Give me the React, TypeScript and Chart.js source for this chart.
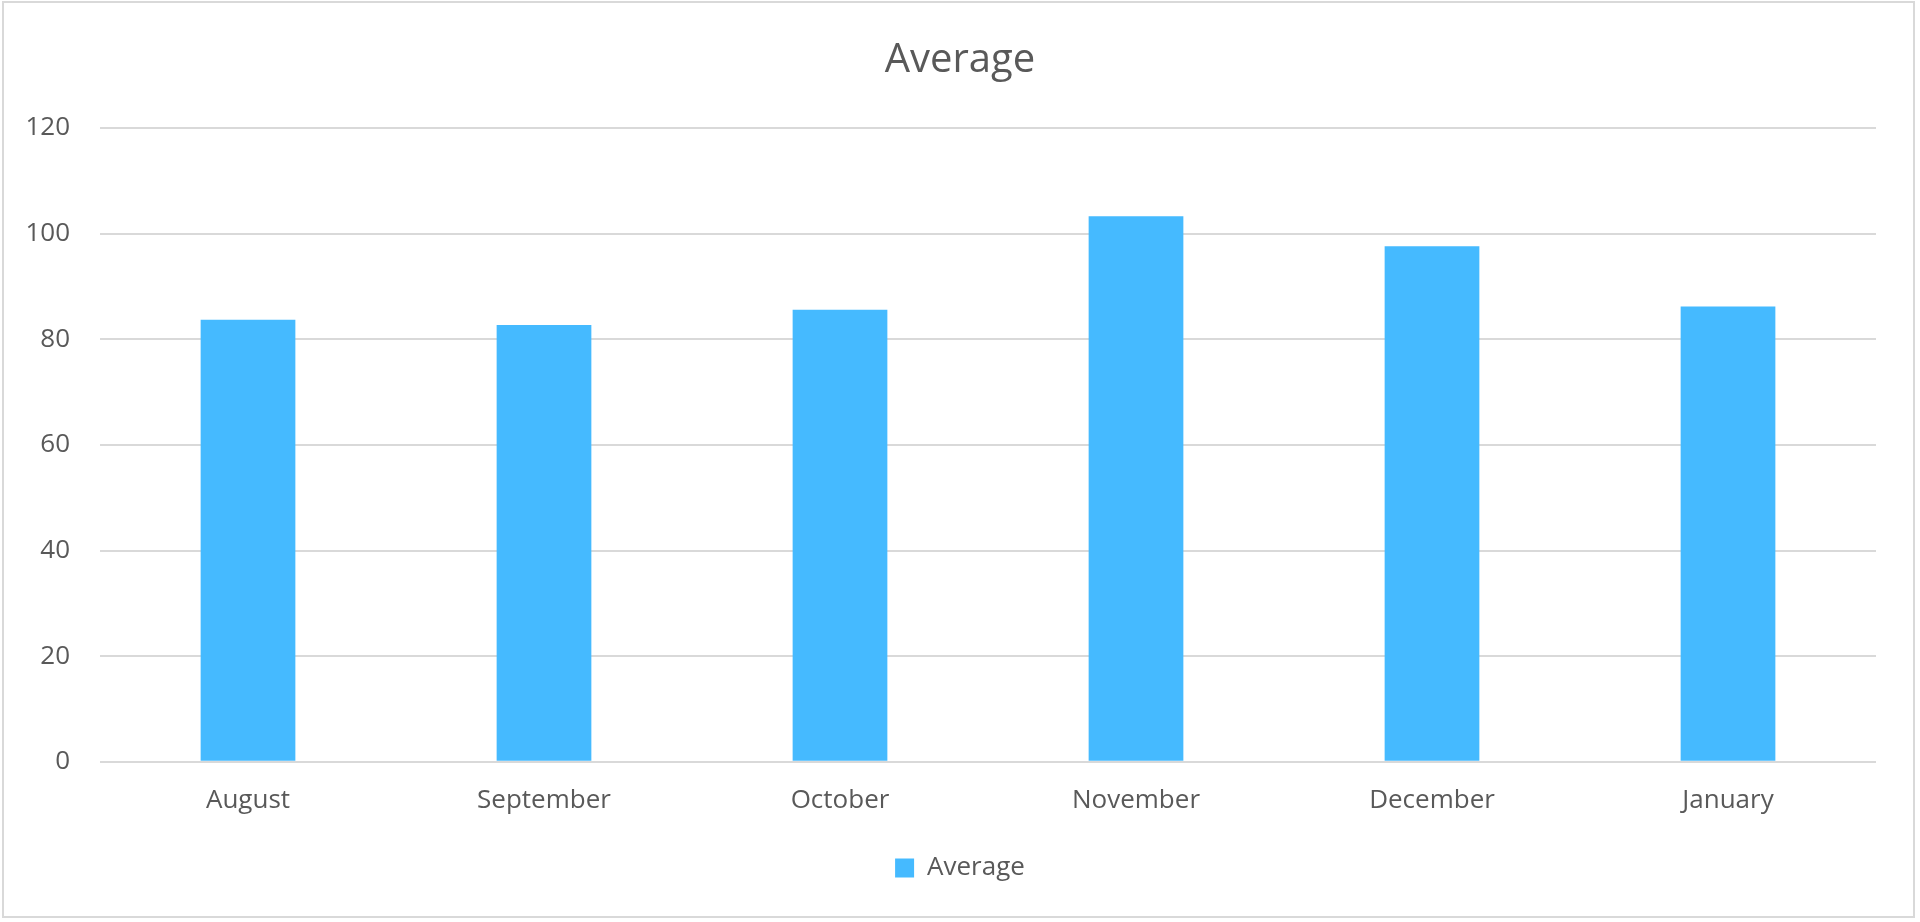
import React, { useEffect, useRef } from "react";
import { Chart, registerables } from "chart.js";

Chart.register(...registerables);

const categories: string[] = ["August", "September", "October", "November", "December", "January"];
const averageValues: number[] = [83.7, 82.7, 85.6, 103.3, 97.6, 86.2];
const seriesName = "Average";
const chartTitle = "Average";

const FONT = "'Open Sans', 'Noto Sans', sans-serif";
const TEXT = "#595959";
const GRID = "#d9d9d9";
const BAR = "#45baff";

export default function App() {
  const canvasRef = useRef<HTMLCanvasElement | null>(null);

  useEffect(() => {
    document.body.style.margin = "0";
    const canvas = canvasRef.current;
    if (!canvas) return;
    const chart = new Chart(canvas, {
      type: "bar",
      data: {
        labels: categories,
        datasets: [
          {
            label: seriesName,
            data: averageValues,
            backgroundColor: BAR,
            borderWidth: 0,
            categoryPercentage: 1,
            barPercentage: 0.32,
            yAxisID: "y",
          },
        ],
      },
      options: {
        responsive: false,
        animation: false,
        layout: { padding: { left: 0, right: 0, top: 0, bottom: 31 } },
        plugins: {
          title: {
            display: true,
            text: chartTitle,
            color: TEXT,
            font: { family: FONT, size: 40, weight: "normal" },
            padding: { top: 37, bottom: 43 },
          },
          legend: {
            display: true,
            position: "bottom",
            labels: {
              color: TEXT,
              font: { family: FONT, size: 26 },
              boxWidth: 19,
              boxHeight: 19,
              padding: 10,
            },
          },
          tooltip: { enabled: false },
        },
        scales: {
          x: {
            grid: { display: false },
            border: { display: false },
            ticks: {
              color: TEXT,
              font: { family: FONT, size: 26 },
              padding: 15,
              maxRotation: 0,
            },
            afterFit: (scale: any) => {
              scale.height = scale.height + 14;
            },
          },
          y: {
            min: 0,
            max: 120,
            grid: { color: GRID, lineWidth: 2, drawTicks: false },
            border: { display: false },
            ticks: {
              stepSize: 20,
              color: TEXT,
              font: { family: FONT, size: 26 },
              padding: 30,
            },
            afterFit: (scale: any) => {
              scale.width = 100;
            },
          },
          yRight: {
            position: "right",
            display: true,
            min: 0,
            max: 120,
            grid: { display: false, drawTicks: false },
            border: { display: false },
            ticks: { display: false },
            afterFit: (scale: any) => {
              scale.width = 44;
            },
          },
        },
      },
    });
    return () => chart.destroy();
  }, []);

  return (
    <div style={{ position: "relative", width: 1920, height: 922, background: "#fff" }}>
      <canvas
        ref={canvasRef}
        width={1920}
        height={922}
        style={{ position: "absolute", left: 0, top: 0, width: 1920, height: 922 }}
      />
      <div
        style={{
          position: "absolute",
          left: 2,
          top: 1,
          width: 1913,
          height: 917,
          border: "2px solid #d9d9d9",
          boxSizing: "border-box",
          pointerEvents: "none",
        }}
      />
    </div>
  );
}
